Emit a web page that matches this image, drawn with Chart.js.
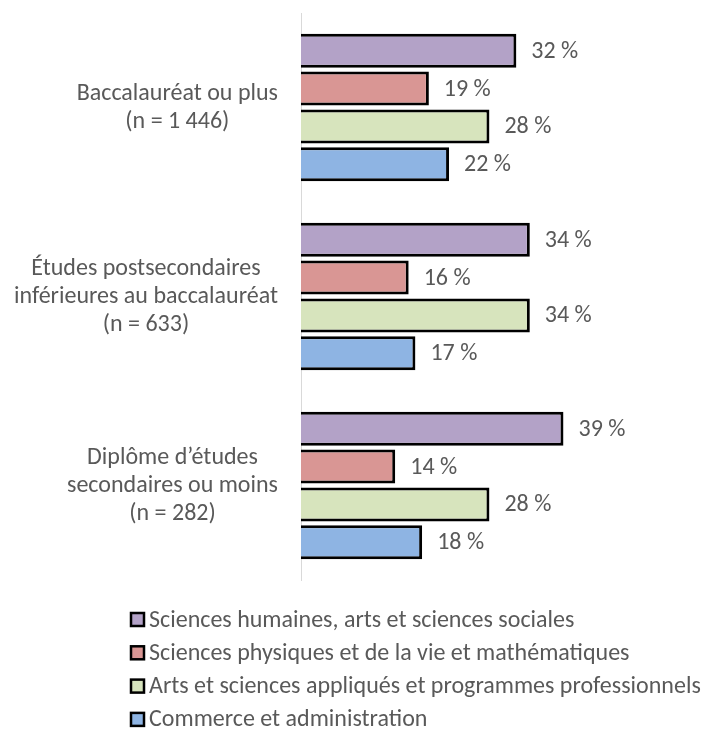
<!DOCTYPE html>
<html lang="fr">
<head>
<meta charset="utf-8">
<script src="https://cdn.jsdelivr.net/npm/chart.js@4"></script>
<style>
  html, body { margin: 0; padding: 0; background: #fff; }
  #wrap { width: 706px; height: 729px; }
</style>
</head>
<body>
<div id="wrap"><canvas id="chart" width="706" height="729"></canvas></div>
<script>
// ── Données ──
const categories = [
  ["Baccalauréat ou plus", "(n = 1 446)"],
  ["Études postsecondaires", "inférieures au baccalauréat", "(n = 633)"],
  ["Diplôme d’études", "secondaires ou moins", "(n = 282)"],
];
const seriesNames = [
  "Sciences humaines, arts et sciences sociales",
  "Sciences physiques et de la vie et mathématiques",
  "Arts et sciences appliqués et programmes professionnels",
  "Commerce et administration",
];
const humaines = [32, 34, 39];
const physiques = [19, 16, 14];
const appliques = [28, 34, 28];
const commerce = [22, 17, 18];

const couleurs = ["#b3a2c7", "#d99694", "#d7e4bd", "#8eb4e3"];
const police = "Carlito, Calibri, Lato, sans-serif";
const gris = "#595959";
const taille = 24;

// étiquettes des catégories : bloc aligné à droite, lignes centrées dans le bloc
const categoriesPlugin = {
  id: "categories",
  afterDraw(chart) {
    const ctx = chart.ctx;
    const y = chart.scales.y;
    ctx.save();
    ctx.font = taille + "px " + police;
    ctx.fillStyle = gris;
    ctx.textAlign = "center";
    ctx.textBaseline = "middle";
    chart.data.labels.forEach((lignes, i) => {
      const large = Math.max(...lignes.map((l) => ctx.measureText(l).width));
      const cx = y.right - 23 - large / 2;
      const cy = y.getPixelForTick(i);
      const pas = 28;
      lignes.forEach((l, k) => {
        ctx.fillText(l, cx, cy + (k - (lignes.length - 1) / 2) * pas);
      });
    });
    ctx.restore();
  },
};

// étiquettes de valeur au bout des barres
const valeursPlugin = {
  id: "valeurs",
  afterDatasetsDraw(chart) {
    const ctx = chart.ctx;
    ctx.save();
    ctx.font = taille + "px " + police;
    ctx.fillStyle = gris;
    ctx.textAlign = "left";
    ctx.textBaseline = "middle";
    chart.data.datasets.forEach((ds, i) => {
      chart.getDatasetMeta(i).data.forEach((bar, j) => {
        ctx.fillText(ds.data[j] + " %", bar.x + 15, bar.y + 1);
      });
    });
    ctx.restore();
  },
};

// légende verticale sous le graphique
const legendePlugin = {
  id: "legende",
  afterDraw(chart) {
    const ctx = chart.ctx;
    ctx.save();
    ctx.font = taille + "px " + police;
    ctx.textBaseline = "middle";
    ctx.textAlign = "left";
    chart.data.datasets.forEach((ds, i) => {
      const y = 619.5 + i * 33.3;
      ctx.fillStyle = ds.backgroundColor;
      ctx.fillRect(131, y - 6.5, 13, 13);
      ctx.strokeStyle = "#000";
      ctx.lineWidth = 2.5;
      ctx.strokeRect(131, y - 6.5, 13, 13);
      ctx.fillStyle = gris;
      ctx.fillText(ds.label, 149, y + 1);
    });
    ctx.restore();
  },
};

const series = [humaines, physiques, appliques, commerce];

new Chart(document.getElementById("chart").getContext("2d"), {
  type: "bar",
  data: {
    labels: categories,
    datasets: series.map((vals, i) => ({
      label: seriesNames[i],
      data: vals,
      backgroundColor: couleurs[i],
      borderColor: "#000",
      borderWidth: 3,
      categoryPercentage: 0.8,
      barPercentage: 0.9,
    })),
  },
  options: {
    indexAxis: "y",
    responsive: false,
    animation: false,
    layout: { padding: { left: 0, right: 68.5, top: 13, bottom: 149 } },
    plugins: {
      legend: { display: false },
      tooltip: { enabled: false },
    },
    scales: {
      x: {
        display: false,
        min: 0,
        max: 50,
      },
      y: {
        grid: { display: false, drawTicks: false },
        border: { display: true, color: "#d9d9d9", width: 1 },
        ticks: { display: false },
        afterFit(scale) {
          scale.width = 301;
          scale.paddingTop = 0;
          scale.paddingBottom = 0;
        },
      },
    },
  },
  plugins: [valeursPlugin, categoriesPlugin, legendePlugin],
});
</script>
</body>
</html>
